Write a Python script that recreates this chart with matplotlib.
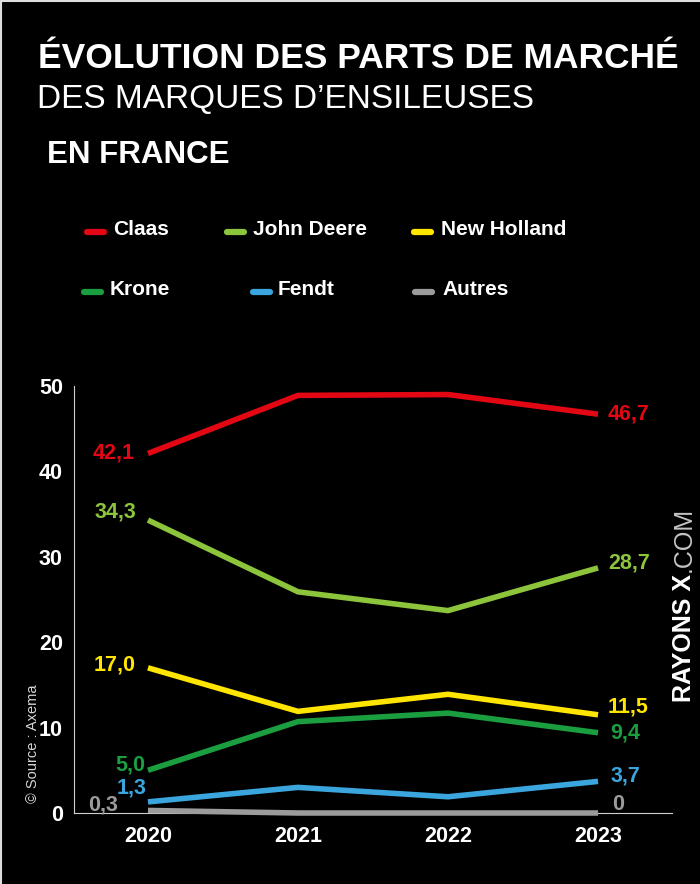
import matplotlib
matplotlib.use("Agg")
import matplotlib.pyplot as plt
from matplotlib.lines import Line2D

# Data (parts de marché, %)
years = ["2020", "2021", "2022", "2023"]
brands = ["Claas", "John Deere", "New Holland", "Krone", "Fendt", "Autres"]
claas = [42.1, 48.9, 49.0, 46.7]
john_deere = [34.3, 25.9, 23.7, 28.7]
new_holland = [17.0, 11.9, 13.9, 11.5]
krone = [5.0, 10.7, 11.7, 9.4]
fendt = [1.3, 3.0, 1.9, 3.7]
autres = [0.3, 0.0, 0.0, 0.0]
first_labels = ["42,1", "34,3", "17,0", "5,0", "1,3", "0,3"]
last_labels = ["46,7", "28,7", "11,5", "9,4", "3,7", "0"]
y_ticks = [0, 10, 20, 30, 40, 50]

series = [claas, john_deere, new_holland, krone, fendt, autres]
colors = ["#e30613", "#8cc43c", "#ffe500", "#1a9e3f", "#3aa6dd", "#9b9b9b"]

# label offsets in pixels (dx, dy) for first / last points
first_off = [(-13, 0), (-12, 8), (-12, 3), (-3, 5), (-1, 14), (-30, 5)]
last_off = [(10, 0), (10, 5), (10, 8), (12, 0), (13, 5), (14, 8)]

BG = "black"
SANS = ["Liberation Sans", "DejaVu Sans"]

W, H = 700, 884
fig = plt.figure(figsize=(W / 100, H / 100), dpi=100, facecolor=BG)

def fx(px):
    return px / W

def fy(py):
    return 1 - py / H

# thin light border on left / top edges
fig.add_artist(Line2D([0.0015, 0.0015], [0, 1], transform=fig.transFigure, color="#dddddd", lw=1.5))
fig.add_artist(Line2D([0, 1], [0.999, 0.999], transform=fig.transFigure, color="#dddddd", lw=1.5))

# Titles
fig.text(fx(38), fy(68), "ÉVOLUTION DES PARTS DE MARCHÉ", color="white", fontsize=25.5,
         fontweight="bold", family=SANS, va="baseline", ha="left")
fig.text(fx(37), fy(108), "DES MARQUES D\u2019ENSILEUSES", color="white", fontsize=24,
         family=SANS, va="baseline", ha="left")
fig.text(fx(47), fy(163), "EN FRANCE", color="white", fontsize=22.5,
         fontweight="bold", family=SANS, va="baseline", ha="left")

# Legend (manual layout)
leg_pos = [(87, 113, 235), (227, 253, 235), (414, 441, 235),
           (84, 110, 295), (253, 278, 295), (415, 442, 295)]
for name, col, (mx, tx, by) in zip(brands, colors, leg_pos):
    fig.add_artist(Line2D([fx(mx), fx(mx + 17)], [fy(by - 3), fy(by - 3)],
                          transform=fig.transFigure, color=col, lw=4.5,
                          solid_capstyle="round"))
    fig.text(fx(tx), fy(by), name, color="white", fontsize=15, fontweight="bold",
             family=SANS, va="baseline", ha="left")

# Chart
ax = fig.add_axes([fx(74), fy(813), fx(672) - fx(74), fy(386) - fy(813)])
ax.set_facecolor(BG)
x = list(range(len(years)))
for vals, col, fl, ll, fo, lo in zip(series, colors, first_labels, last_labels,
                                     first_off, last_off):
    ax.plot(x, vals, color=col, lw=4, solid_capstyle="butt", solid_joinstyle="miter",
            clip_on=False, zorder=3)
    ax.annotate(fl, (x[0], vals[0]), xytext=fo, textcoords="offset pixels",
                ha="right", va="center", color=col, fontsize=15.5, fontweight="bold",
                family=SANS)
    ax.annotate(ll, (x[-1], vals[-1]), xytext=lo, textcoords="offset pixels",
                ha="left", va="center", color=col, fontsize=15.5, fontweight="bold",
                family=SANS)

ax.set_xlim(-0.493, 3.493)
ax.set_ylim(0, 50)
ax.set_xticks(x)
ax.set_xticklabels(years)
ax.set_yticks(y_ticks)
ax.set_yticklabels([str(v) for v in y_ticks])
ax.tick_params(length=0, colors="white", labelsize=15.5)
ax.tick_params(axis="x", pad=9)
ax.tick_params(axis="y", pad=8)
for lab in ax.get_xticklabels() + ax.get_yticklabels():
    lab.set_fontweight("bold")
    lab.set_family(SANS)
for side in ["top", "right"]:
    ax.spines[side].set_visible(False)
for side in ["left", "bottom"]:
    ax.spines[side].set_color("#cfcfcf")
    ax.spines[side].set_linewidth(0.8)

# Source and site credit
fig.text(fx(33), fy(803), "\u00a9 Source : Axema", color="#d8d8d8", fontsize=10.5,
         family=SANS, rotation=90, ha="center", va="bottom")
t1 = fig.text(fx(684), fy(702), "RAYONS X", color="white", fontsize=18,
              fontweight="bold", family=SANS, rotation=90, ha="center", va="bottom")
fig.canvas.draw()
bb = t1.get_window_extent()
fig.text(fx(684), bb.y1 / H + 0.002, ".COM", color="#c4c4c4", fontsize=18,
         family=SANS, rotation=90, ha="center", va="bottom")

fig.savefig("out.png", dpi=100, facecolor=BG)
